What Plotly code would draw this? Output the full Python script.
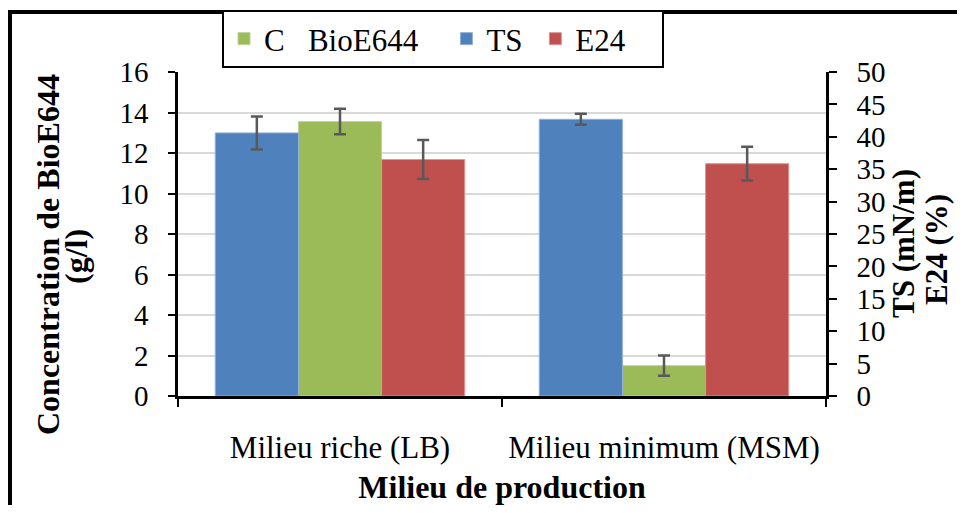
import plotly.graph_objects as go

categories = ["Milieu riche (LB)", "Milieu minimum (MSM)"]
conc_bioe644 = [13.55, 1.5]          # g/l  (left axis)
conc_err = [0.63, 0.5]
ts_values = [40.6, 42.7]              # mN/m (right axis)
ts_err = [2.55, 0.85]
e24_values = [36.5, 35.85]            # %    (right axis)
e24_err = [3.0, 2.6]

left_ticks = list(range(0, 17, 2))
right_ticks = list(range(0, 51, 5))

BLUE = "#4F81BD"
GREEN = "#9BBB59"
RED = "#C0504D"
ERR = "#595959"
FONT = "Liberation Serif"
NB = "\u00a0"

err_style = dict(type="data", color=ERR, thickness=2.5, width=6)

fig = go.Figure()
fig.add_trace(go.Bar(
    name="TS" + NB, x=categories, y=ts_values, yaxis="y2", offsetgroup=1,
    marker=dict(color=BLUE, line=dict(color="#8FB0D8", width=1)),
    error_y=dict(array=ts_err, **err_style), legendrank=2,
))
fig.add_trace(go.Bar(
    name="C" + NB * 3 + "BioE644" + NB * 3, x=categories, y=conc_bioe644, yaxis="y",
    offsetgroup=2,
    marker=dict(color=GREEN, line=dict(color="#BDD39A", width=1)),
    error_y=dict(array=conc_err, **err_style), legendrank=1,
))
fig.add_trace(go.Bar(
    name="E24" + NB * 4, x=categories, y=e24_values, yaxis="y2", offsetgroup=3,
    marker=dict(color=RED, line=dict(color="#D99694", width=1)),
    error_y=dict(array=e24_err, **err_style), legendrank=3,
))

# page body has an 8px margin on every side: figure occupies window pixels 8..957, 8..505
OFF = 8
W, H = 965 - 2 * OFF, 513 - 2 * OFF
L, T = 178 - OFF, 72 - OFF
R = W - (826 - OFF)
B = H - (396 - OFF)
pw, ph = W - L - R, H - T - B

def px(xw):  # window pixel -> paper x
    return (xw - OFF - L) / pw

def py(yw):  # window pixel -> paper y
    return (H - B - (yw - OFF)) / ph

title_font = dict(family=FONT, size=32, color="black")
rtitle_font = dict(family=FONT, size=31, color="black")

fig.update_layout(
    width=W, height=H,
    margin=dict(l=L, r=R, t=T, b=B, autoexpand=False),
    paper_bgcolor="white", plot_bgcolor="white",
    barmode="group", bargap=0.23, bargroupgap=0,
    font=dict(family=FONT, color="black", size=30),
    showlegend=True,
    legend=dict(
        orientation="h", x=px(222), y=py(39), xanchor="left", yanchor="middle",
        bordercolor="black", borderwidth=2, bgcolor="white",
        font=dict(family=FONT, size=31), traceorder="normal",
        itemwidth=30, tracegroupgap=0,
    ),
    xaxis=dict(
        type="category", categoryorder="array", categoryarray=categories,
        range=[-0.5, 1.5], tickson="boundaries", ticks="outside", ticklen=8,
        tickwidth=2, tickcolor="black", showline=True, linecolor="black", linewidth=2.5,
        showgrid=False, tickfont=dict(size=31), ticklabelstandoff=22,
        title=dict(text="<b>Milieu de production</b>", font=dict(size=32), standoff=14),
        zeroline=False,
    ),
    xaxis2=dict(
        overlaying="x", anchor="y", side="bottom", range=[-0.5, 1.5],
        tickvals=[0, 1], ticks="outside", ticklen=8, tickwidth=2, tickcolor="black",
        showticklabels=False, showline=False, showgrid=False, zeroline=False,
    ),
    yaxis=dict(
        range=[0, 16], tickvals=left_ticks, ticks="outside", ticklen=7, tickwidth=2,
        tickcolor="black", showline=True, linecolor="black", linewidth=2.5,
        showgrid=True, gridcolor="#D9D9D9", gridwidth=2, zeroline=False,
        tickfont=dict(size=29), ticklabelstandoff=14,
    ),
    yaxis2=dict(
        overlaying="y", side="right", range=[0, 50], tickvals=right_ticks,
        ticks="outside", ticklen=8, tickwidth=2, tickcolor="black",
        showline=True, linecolor="black", linewidth=2.5, showgrid=False, zeroline=False,
        tickfont=dict(size=29), ticklabelstandoff=14,
    ),
    annotations=[
        dict(text="<b>Concentration de BioE644</b>", xref="paper", yref="paper",
             x=px(48), y=py(255), textangle=-90, showarrow=False,
             xanchor="center", yanchor="middle", font=title_font),
        dict(text="<b>(g/l)</b>", xref="paper", yref="paper",
             x=px(76), y=py(257), textangle=-90, showarrow=False,
             xanchor="center", yanchor="middle", font=title_font),
        dict(text="<b>TS (mN/m)</b>", xref="paper", yref="paper",
             x=px(903), y=py(244), textangle=-90, showarrow=False,
             xanchor="center", yanchor="middle", font=rtitle_font),
        dict(text="<b>E24 (%)</b>", xref="paper", yref="paper",
             x=px(936), y=py(250), textangle=-90, showarrow=False,
             xanchor="center", yanchor="middle", font=rtitle_font),
    ],
    shapes=[dict(
        type="rect", xref="paper", yref="paper",
        x0=px(10), x1=px(1100), y0=py(700), y1=py(12),
        line=dict(color="black", width=4), fillcolor="rgba(0,0,0,0)", layer="below",
    )],
)

fig.write_html("out.html")
